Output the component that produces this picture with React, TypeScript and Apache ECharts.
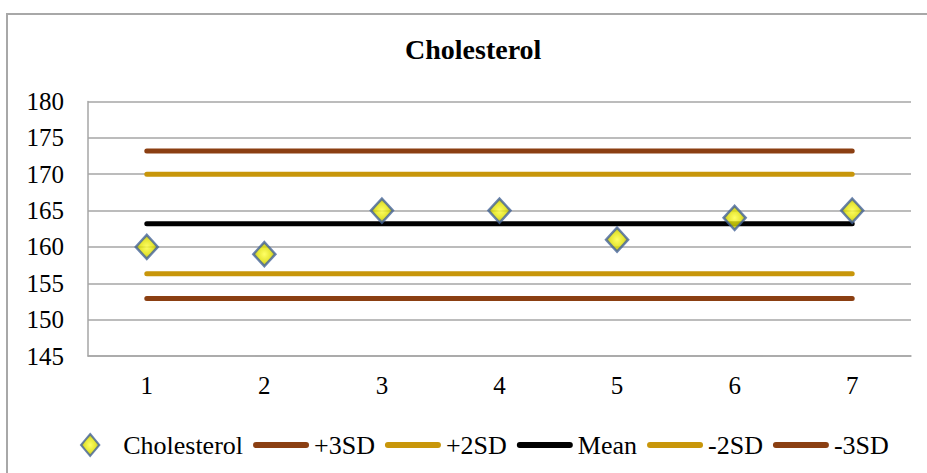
import React, { useEffect, useRef } from "react";
import * as echarts from "echarts";

const categories = ["1", "2", "3", "4", "5", "6", "7"];
const cholesterol = [160, 159, 165, 165, 161, 164, 165];
const plus3SD = [173.2, 173.2, 173.2, 173.2, 173.2, 173.2, 173.2];
const plus2SD = [170, 170, 170, 170, 170, 170, 170];
const meanVals = [163.2, 163.2, 163.2, 163.2, 163.2, 163.2, 163.2];
const minus2SD = [156.3, 156.3, 156.3, 156.3, 156.3, 156.3, 156.3];
const minus3SD = [152.9, 152.9, 152.9, 152.9, 152.9, 152.9, 152.9];

const FONT = "'Liberation Serif', 'Times New Roman', serif";
const BROWN = "#8b3f12";
const GOLD = "#c8960a";
const GRID = "#a6a6a6";
const MARKER_BORDER = "#45649a";

const lineIcon = "path://M3,0 H53 A3,3 0 0 1 53,6 H3 A3,3 0 0 1 3,0 Z";
const diamondIcon = "path://M10,0 L20,12 L10,24 L0,12 Z";

export default function App() {
  const ref = useRef<HTMLDivElement>(null);
  useEffect(() => {
    if (!ref.current) return;
    const chart = echarts.init(ref.current, null, { renderer: "svg" });
    const markerFill = new echarts.graphic.RadialGradient(0.5, 0.5, 0.6, [
      { offset: 0, color: "#ffff40" },
      { offset: 0.5, color: "#e0e000" },
      { offset: 1, color: "#7a7800" },
    ]);
    const lineSeries = (name: string, data: number[], color: string) => ({
      name,
      type: "line",
      data,
      symbol: "none",
      color,
      lineStyle: { color, width: 5, cap: "round" },
      z: 2,
    });
    chart.setOption({
      animation: false,
      backgroundColor: "#ffffff",
      textStyle: { fontFamily: FONT },
      title: {
        text: "Cholesterol",
        left: 405,
        top: 35,
        padding: 0,
        textStyle: { fontFamily: FONT, fontSize: 28, fontWeight: "bold", color: "#000" },
      },
      graphic: [
        {
          type: "rect",
          shape: { x: 7, y: 14, width: 940, height: 480 },
          style: { fill: "none", stroke: "#a8a8a8", lineWidth: 2 },
          silent: true,
          z: -1,
        },
      ],
      grid: { left: 88, right: 16, top: 101.5, bottom: 117, containLabel: false },
      xAxis: {
        type: "category",
        data: categories,
        boundaryGap: true,
        axisLine: { lineStyle: { color: GRID, width: 1.5 } },
        axisTick: { show: false },
        axisLabel: { fontFamily: FONT, fontSize: 25, color: "#000", margin: 17 },
        splitLine: { show: false },
      },
      yAxis: {
        type: "value",
        min: 145,
        max: 180,
        interval: 5,
        axisLine: { show: true, lineStyle: { color: GRID, width: 1.5 } },
        axisTick: { show: false },
        axisLabel: { fontFamily: FONT, fontSize: 25, color: "#000", margin: 24 },
        splitLine: { lineStyle: { color: GRID, width: 1.5 } },
      },
      legend: {
        left: 80,
        top: 432,
        itemWidth: 56,
        itemHeight: 22,
        itemGap: 10,
        padding: 0,
        textStyle: { fontFamily: FONT, fontSize: 26, color: "#000" },
        data: [
          {
            name: "Cholesterol",
            icon: diamondIcon,
            itemStyle: { color: markerFill, borderColor: MARKER_BORDER, borderWidth: 2 },
          },
          { name: "+3SD", icon: lineIcon },
          { name: "+2SD", icon: lineIcon },
          { name: "Mean", icon: lineIcon },
          { name: "-2SD", icon: lineIcon },
          { name: "-3SD", icon: lineIcon },
        ],
      },
      series: [
        {
          name: "Cholesterol",
          type: "scatter",
          data: cholesterol,
          symbol: "diamond",
          symbolSize: [22, 24],
          itemStyle: { color: markerFill, borderColor: MARKER_BORDER, borderWidth: 2.5 },
          z: 5,
        },
        lineSeries("+3SD", plus3SD, BROWN),
        lineSeries("+2SD", plus2SD, GOLD),
        lineSeries("Mean", meanVals, "#000000"),
        lineSeries("-2SD", minus2SD, GOLD),
        lineSeries("-3SD", minus3SD, BROWN),
      ],
    });
    return () => chart.dispose();
  }, []);
  return (
    <div
      ref={ref}
      style={{ position: "absolute", left: 0, top: 0, width: 927, height: 473 }}
    />
  );
}
